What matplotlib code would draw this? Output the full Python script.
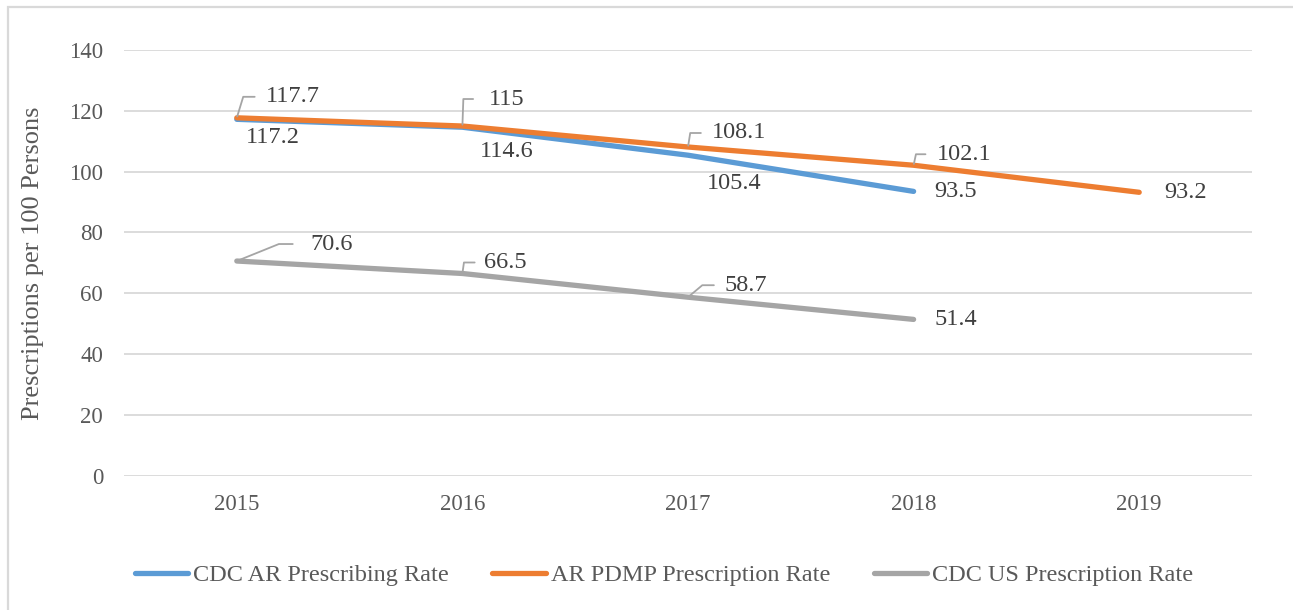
import matplotlib
matplotlib.use("Agg")
import matplotlib.pyplot as plt
import numpy as np
from matplotlib.patches import Rectangle

# data
years = ["2015", "2016", "2017", "2018", "2019"]
cdc_ar = [117.2, 114.6, 105.4, 93.5, np.nan]
ar_pdmp = [117.7, 115, 108.1, 102.1, 93.2]
cdc_us = [70.6, 66.5, 58.7, 51.4, np.nan]
series_names = ["CDC AR Prescribing Rate", "AR PDMP Prescription Rate",
                "CDC US Prescription Rate"]
y_ticks = [0, 20, 40, 60, 80, 100, 120, 140]

plt.rcParams["font.family"] = ["Liberation Serif", "DejaVu Serif"]

BLUE = "#5B9BD5"
ORANGE = "#ED7D31"
GRAY = "#A5A5A5"
TXT = "#595959"
LBL = "#404040"
GRID = "#D9D9D9"

W, H = 1293, 610
fig = plt.figure(figsize=(W / 100, H / 100), dpi=100)
ax = fig.add_axes([124 / W, 1 - 475.7 / H, 1128 / W, 425.7 / H])

x = np.arange(len(years))
line_kw = dict(lw=3.8, solid_capstyle="round", solid_joinstyle="round")
ax.plot(x, cdc_us, color=GRAY, label=series_names[2], zorder=3, **line_kw)
ax.plot(x, cdc_ar, color=BLUE, label=series_names[0], zorder=4, **line_kw)
ax.plot(x, ar_pdmp, color=ORANGE, label=series_names[1], zorder=5, **line_kw)

ax.set_xlim(-0.5, len(years) - 0.5)
ax.set_ylim(0, 140)
ax.set_yticks(y_ticks)
ax.set_xticks(x)
ax.set_xticklabels(years)
ax.tick_params(length=0, labelsize=16.5, labelcolor=TXT)
ax.tick_params(axis="y", pad=15)
ax.tick_params(axis="x", pad=13)
for s in ax.spines.values():
    s.set_visible(False)
ax.grid(axis="y", color=GRID, lw=1.3)
ax.set_axisbelow(True)

fig.text(33 / W, 1 - 263 / H, "Prescriptions per 100 Persons", rotation=90,
         ha="center", va="center", fontsize=19, color=TXT)


def label(xi, yi, text, dx, dy, ha="left", angle=None, gap=6):
    kw = {}
    if angle is not None:
        kw["arrowprops"] = dict(
            arrowstyle="-", color=GRAY, lw=1.3, shrinkA=gap, shrinkB=1,
            relpos=(0, 0.5),
            connectionstyle=f"angle,angleA=180,angleB={angle},rad=0")
    ax.annotate(text, xy=(xi, yi), xytext=(dx, dy), textcoords="offset pixels",
                ha=ha, va="center", fontsize=17.5, color=LBL, zorder=6, **kw)


def fmt(v):
    return f"{v:g}"


# orange labels above, with leader lines
orange_off = [(29, 21, 73, 6), (26, 27, 88, 9), (24, 14, 81, 6), (23, 11, 78, 6), (25, 0, None, 6)]
for i, (dx, dy, ang, gap) in enumerate(orange_off):
    label(x[i], ar_pdmp[i], fmt(ar_pdmp[i]), dx, dy, angle=ang, gap=gap)

# blue labels below
blue_off = [(36, -18, "center"), (44, -24, "center"), (46, -28, "center"), (21, 0, "left")]
for i, (dx, dy, ha) in enumerate(blue_off):
    label(x[i], cdc_ar[i], fmt(cdc_ar[i]), dx, dy, ha=ha)

# gray labels
gray_off = [(74, 17, 22, 11), (22, 11, 82, 5), (37, 12, 40, 6), (21, 0, None, 6)]
for i, (dx, dy, ang, gap) in enumerate(gray_off):
    label(x[i], cdc_us[i], fmt(cdc_us[i]), dx, dy, angle=ang, gap=gap)

handles, labels = ax.get_legend_handles_labels()
order = [1, 2, 0]
leg = fig.legend([handles[i] for i in order], [labels[i] for i in order],
                 loc="center", bbox_to_anchor=(664 / W, 1 - 575 / H), ncol=3,
                 frameon=False, fontsize=17.5, handlelength=2.2,
                 handletextpad=0.2, columnspacing=1.8)
for t in leg.get_texts():
    t.set_color(TXT)

# chart area border (only top and left edges fall inside the image)
fig.patches.append(Rectangle((7.5 / W, -0.1), 1.2, 1.1 - 7 / H,
                             transform=fig.transFigure, fill=False,
                             edgecolor=GRID, lw=1.6))

fig.savefig("out.png", dpi=100)
